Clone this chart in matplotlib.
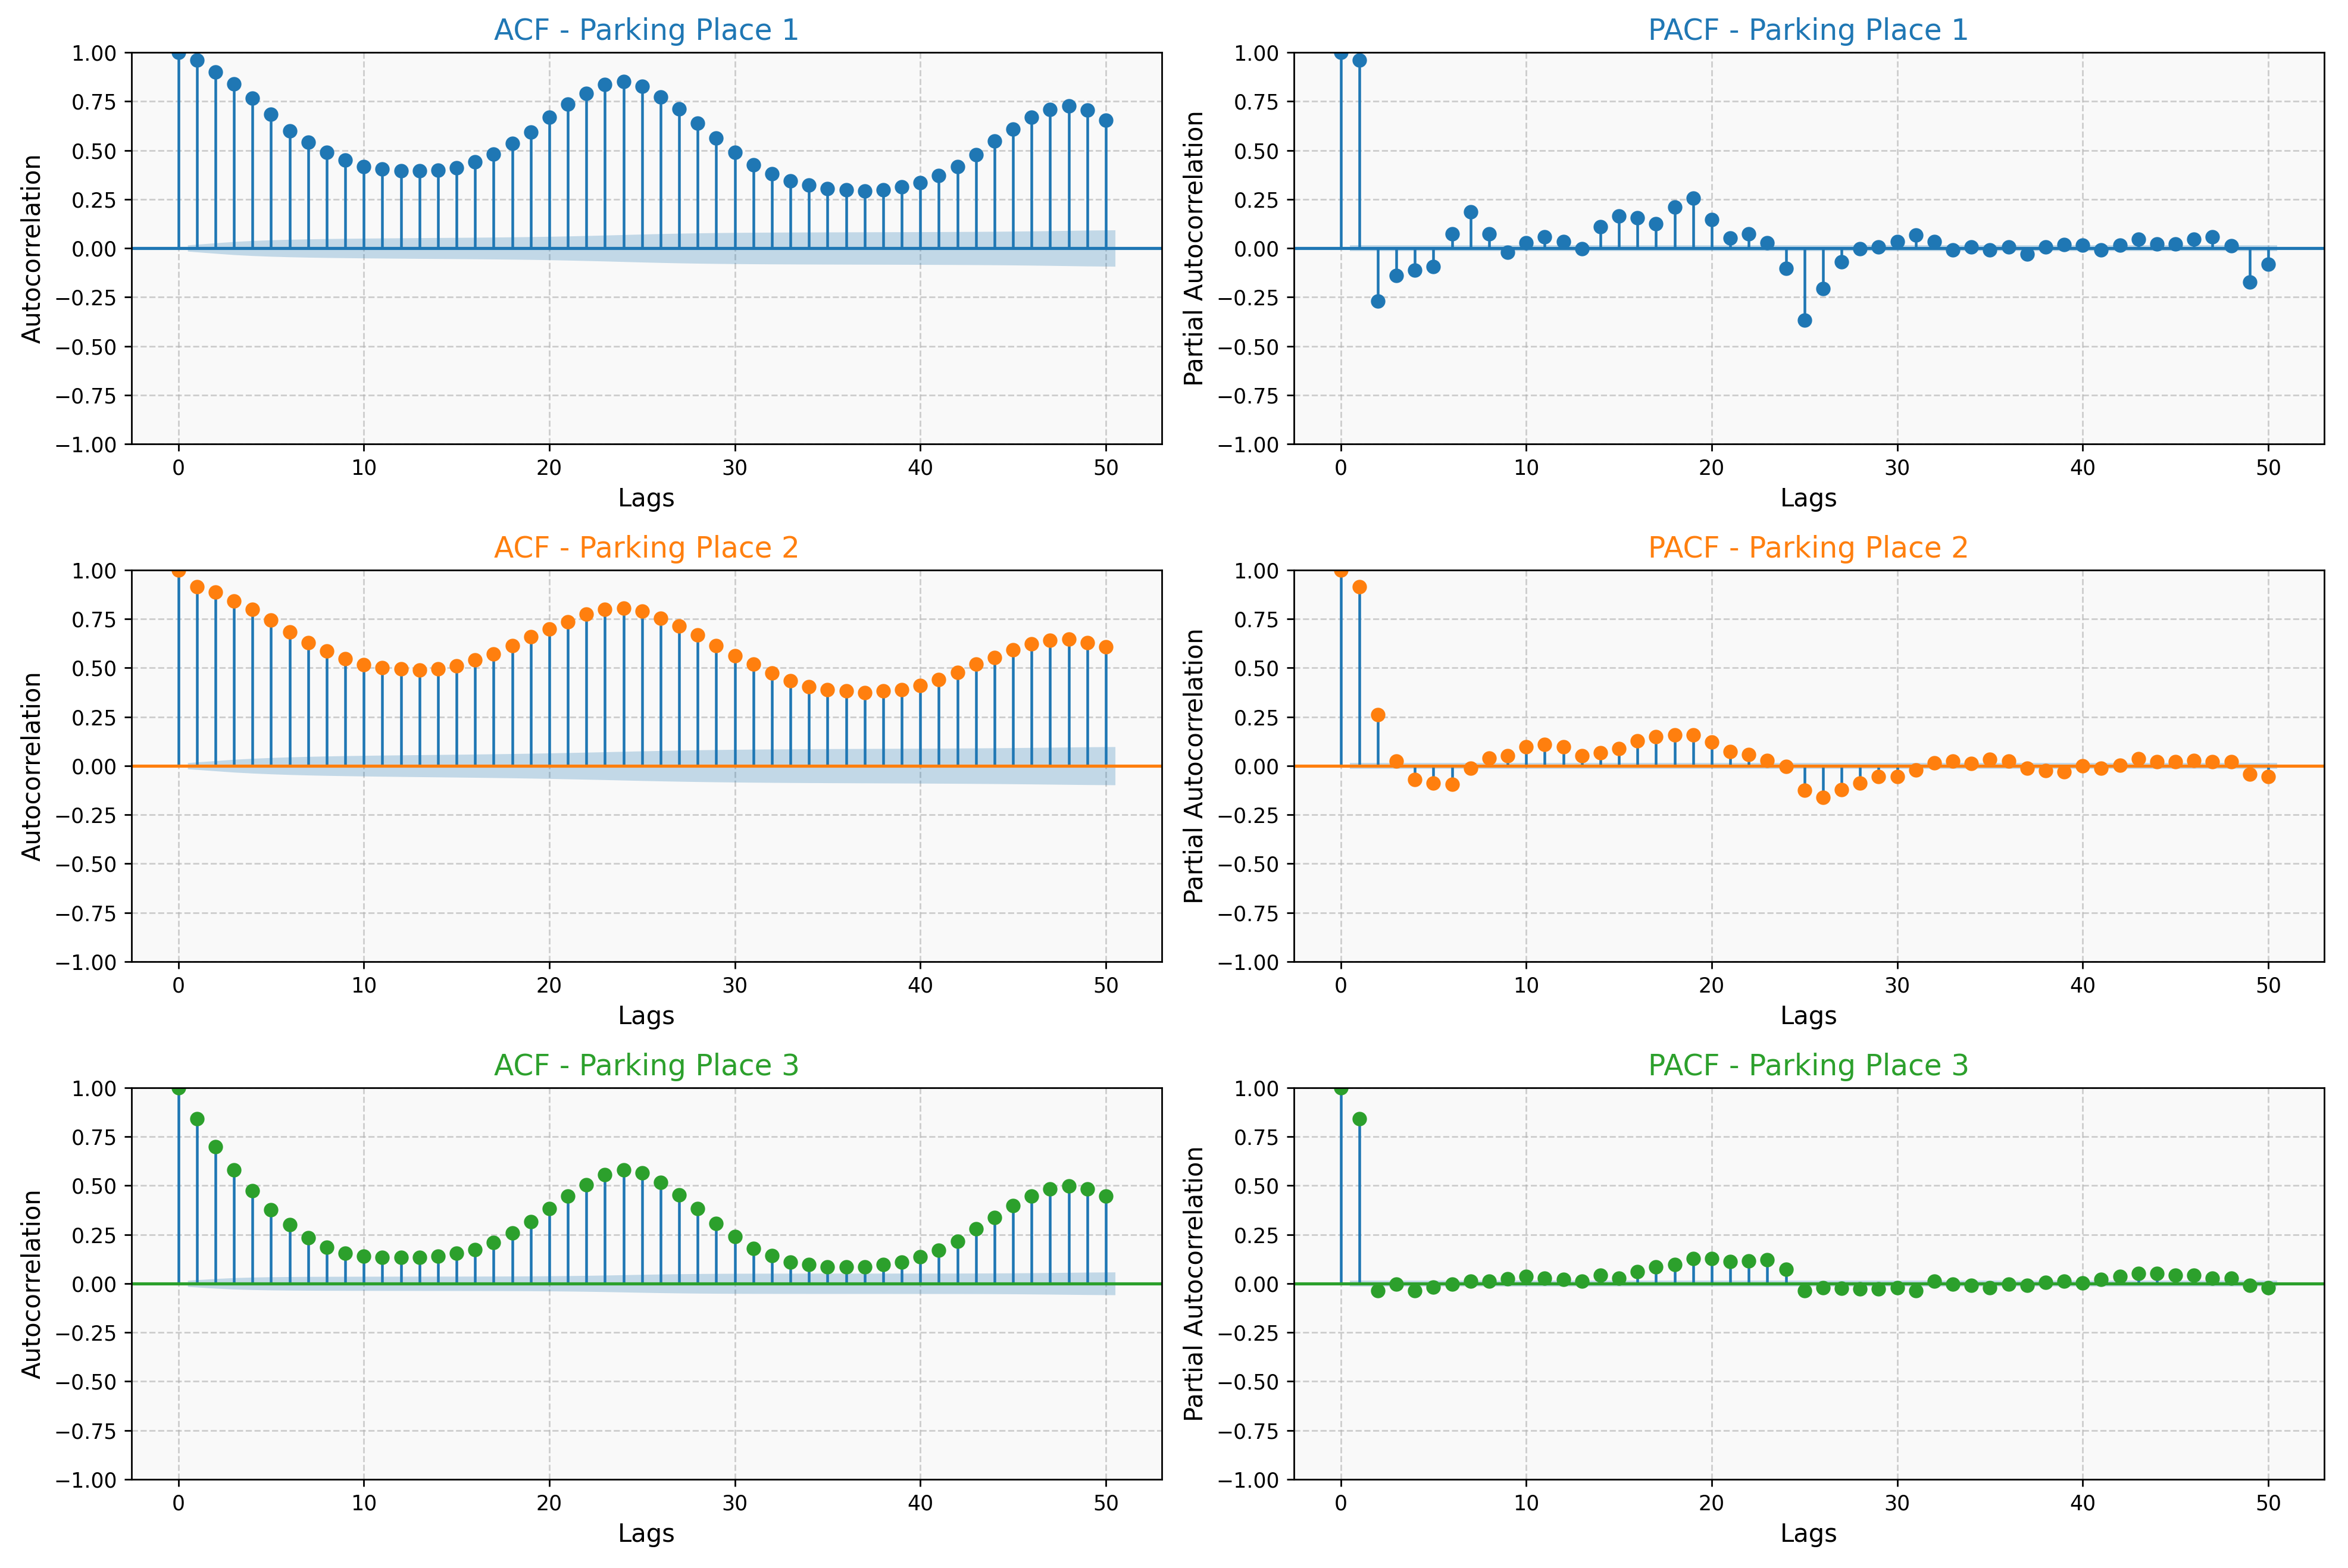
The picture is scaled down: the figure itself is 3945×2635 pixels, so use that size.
import numpy as np
import matplotlib
matplotlib.use("Agg")
import matplotlib.pyplot as plt

lags = list(range(51))

acf_p1 = [1.0, 0.96, 0.90, 0.84, 0.766, 0.683, 0.60, 0.54, 0.488, 0.449, 0.417,
          0.403, 0.396, 0.396, 0.397, 0.41, 0.44, 0.48, 0.534, 0.594, 0.67,
          0.735, 0.79, 0.835, 0.85, 0.826, 0.773, 0.711, 0.637, 0.563, 0.488,
          0.427, 0.381, 0.343, 0.321, 0.305, 0.298, 0.291, 0.298, 0.312, 0.335,
          0.372, 0.417, 0.477, 0.547, 0.608, 0.668, 0.707, 0.728, 0.704, 0.653]
pacf_p1 = [1.0, 0.96, -0.269, -0.139, -0.112, -0.095, 0.073, 0.184, 0.073, -0.021, 0.028,
           0.059, 0.035, -0.004, 0.11, 0.163, 0.156, 0.126, 0.209, 0.254, 0.146,
           0.052, 0.073, 0.028, -0.102, -0.367, -0.206, -0.071, -0.004, 0.006, 0.033,
           0.066, 0.033, -0.008, 0.006, -0.008, 0.006, -0.029, 0.006, 0.017, 0.014,
           -0.008, 0.014, 0.045, 0.02, 0.021, 0.045, 0.059, 0.013, -0.172, -0.081]

acf_p2 = [1.0, 0.916, 0.887, 0.842, 0.798, 0.745, 0.683, 0.63, 0.586, 0.547, 0.516,
          0.502, 0.494, 0.488, 0.494, 0.509, 0.54, 0.57, 0.614, 0.66, 0.699,
          0.735, 0.775, 0.798, 0.805, 0.791, 0.753, 0.714, 0.668, 0.615, 0.563,
          0.519, 0.473, 0.435, 0.404, 0.39, 0.382, 0.375, 0.382, 0.39, 0.411,
          0.442, 0.477, 0.519, 0.554, 0.593, 0.623, 0.642, 0.647, 0.63, 0.607]
pacf_p2 = [1.0, 0.916, 0.261, 0.024, -0.07, -0.088, -0.095, -0.011, 0.038, 0.052, 0.096,
           0.11, 0.096, 0.052, 0.066, 0.089, 0.128, 0.149, 0.159, 0.159, 0.121,
           0.073, 0.059, 0.028, -0.004, -0.126, -0.16, -0.123, -0.088, -0.056, -0.056,
           -0.021, 0.014, 0.024, 0.013, 0.033, 0.024, -0.011, -0.025, -0.032, -0.001,
           -0.011, 0.003, 0.035, 0.021, 0.021, 0.026, 0.021, 0.021, -0.042, -0.056]

acf_p3 = [1.0, 0.842, 0.70, 0.579, 0.473, 0.375, 0.30, 0.233, 0.184, 0.156, 0.139,
          0.134, 0.134, 0.134, 0.139, 0.156, 0.173, 0.209, 0.257, 0.317, 0.382,
          0.445, 0.505, 0.556, 0.579, 0.565, 0.515, 0.452, 0.382, 0.307, 0.24,
          0.18, 0.142, 0.11, 0.098, 0.084, 0.084, 0.084, 0.098, 0.11, 0.135,
          0.17, 0.216, 0.278, 0.338, 0.397, 0.445, 0.484, 0.498, 0.484, 0.445]
pacf_p3 = [1.0, 0.842, -0.036, -0.004, -0.036, -0.018, -0.004, 0.013, 0.013, 0.024, 0.035,
           0.028, 0.021, 0.013, 0.042, 0.028, 0.059, 0.084, 0.098, 0.128, 0.128,
           0.112, 0.114, 0.121, 0.073, -0.036, -0.021, -0.025, -0.029, -0.029, -0.021,
           -0.036, 0.013, -0.004, -0.011, -0.021, -0.004, -0.011, 0.007, 0.013, 0.003,
           0.021, 0.035, 0.052, 0.052, 0.042, 0.042, 0.026, 0.026, -0.011, -0.021]

places = ["Parking Place 1", "Parking Place 2", "Parking Place 3"]
colors = ["#1f77b4", "#ff7f0e", "#2ca02c"]
acfs = [acf_p1, acf_p2, acf_p3]
pacfs = [pacf_p1, pacf_p2, pacf_p3]
NOBS = 15300  # number of observations used for the confidence bands


def bartlett_half_width(acf, nobs):
    a = np.asarray(acf, dtype=float)
    var = np.ones(len(a)) / nobs
    var[0] = 0
    var[1] = 1.0 / nobs
    var[2:] *= 1 + 2 * np.cumsum(a[1:-1] ** 2)
    return 1.959964 * np.sqrt(var)


def draw(ax, vals, color, half, title, ylabel):
    x = np.asarray(lags, dtype=float)
    v = np.asarray(vals, dtype=float)
    ax.set_facecolor("#f9f9f9")
    ax.grid(True, linestyle="--", alpha=0.6, zorder=0)
    ax.set_axisbelow(True)
    ax.vlines(x, [0], v, color="#1f77b4", linewidth=1.3)
    ax.axhline(0, color=color, linewidth=1.5)
    ax.plot(x, v, marker="o", markersize=6, linestyle="None", color=color)
    ax.margins(0.05)
    xb = x[1:].copy()
    xb[0] -= 0.5
    xb[-1] += 0.5
    hb = np.asarray(half)[1:]
    ax.fill_between(xb, -hb, hb, alpha=0.25, color="#1f77b4", linewidth=0)
    ax.set_ylim(-1, 1)
    ax.set_yticks(np.arange(-1, 1.01, 0.25))
    ax.set_title(title, color=color, fontsize=14)
    ax.set_xlabel("Lags", fontsize=12)
    ax.set_ylabel(ylabel, fontsize=12)
    ax.tick_params(labelsize=10)


fig, axes = plt.subplots(3, 2, figsize=(15.78, 10.54), dpi=250)
fig.subplots_adjust(left=0.056, right=0.9899, top=0.9666, bottom=0.0566,
                    wspace=0.128, hspace=0.322)

for i in range(3):
    half_acf = bartlett_half_width(acfs[i], NOBS)
    half_pacf = np.full(len(lags), 1.959964 / np.sqrt(NOBS))
    draw(axes[i, 0], acfs[i], colors[i], half_acf,
         f"ACF - {places[i]}", "Autocorrelation")
    draw(axes[i, 1], pacfs[i], colors[i], half_pacf,
         f"PACF - {places[i]}", "Partial Autocorrelation")

fig.savefig("out.png", dpi=250)
